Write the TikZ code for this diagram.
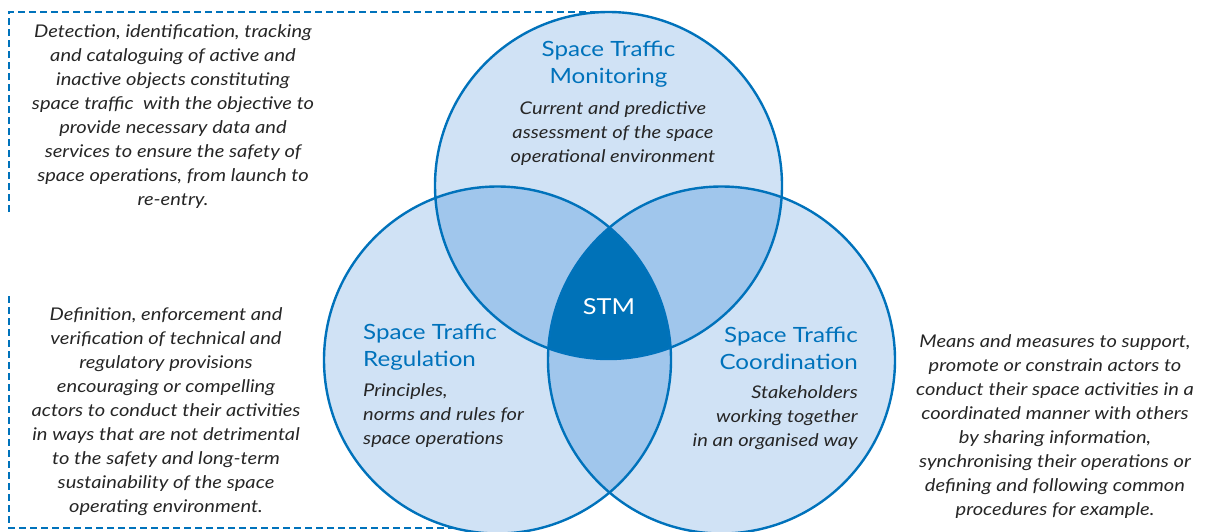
\documentclass[tikz,border=0pt]{standalone}
\usepackage{fontspec}
\setmainfont{Lato}[FakeStretch=1.15]
\definecolor{stmblue}{RGB}{0,114,187}
\definecolor{lightfill}{RGB}{208,226,245}
\definecolor{midfill}{RGB}{160,198,236}
\definecolor{darkfill}{RGB}{0,114,184}
\definecolor{txtgrey}{RGB}{38,38,38}
\tikzset{
  desc/.style={text=txtgrey, font=\fontsize{17.5}{24}\selectfont\itshape, align=center, inner sep=0pt},
  ttl/.style={text=stmblue, font=\fontsize{21}{27}\selectfont, inner sep=0pt},
  circ/.style={draw=stmblue, line width=2.4pt},
  dashline/.style={draw=stmblue, line width=1.6pt, dash pattern=on 7pt off 4pt}
}
\begin{document}
\begin{tikzpicture}[x=1pt,y=-1pt]
\useasboundingbox (0,0) rectangle (1213,531);
% dashed frames
\draw[dashline] (9,212) -- (9,12) -- (608,12);
\draw[dashline] (9,296) -- (9,528) -- (497,528);
% circle centres
\coordinate (cm) at (608.5,185.5);
\coordinate (cr) at (497.5,360);
\coordinate (cc) at (721.5,360);
\def\R{173.5}
% fills
\fill[lightfill] (cm) circle (\R);
\fill[lightfill] (cr) circle (\R);
\fill[lightfill] (cc) circle (\R);
\begin{scope}
  \clip (cm) circle (\R);
  \fill[midfill] (cr) circle (\R);
  \fill[midfill] (cc) circle (\R);
\end{scope}
\begin{scope}
  \clip (cr) circle (\R);
  \fill[midfill] (cc) circle (\R);
\end{scope}
\begin{scope}
  \clip (cm) circle (\R);
  \clip (cr) circle (\R);
  \fill[darkfill] (cc) circle (\R);
\end{scope}
% outlines
\draw[circ] (cm) circle (\R);
\draw[circ] (cr) circle (\R);
\draw[circ] (cc) circle (\R);
% texts
\node[desc] (tl) at (173,117) {Detection, identification, tracking\\and cataloguing of active and\\inactive objects constituting\\space traffic\ \ with the objective to\\provide necessary data and\\services to ensure the safety of\\space operations, from launch to\\re-entry.};
\node[desc] (bl) at (166,411.5) {Definition, enforcement and\\verification of technical and\\regulatory provisions\\encouraging or compelling\\actors to conduct their activities\\in ways that are not detrimental\\to the safety and long-term\\sustainability of the space\\operating environment.};
\node[desc] (rt) at (1055,427) {Means and measures to support,\\promote or constrain actors to\\conduct their space activities in a\\coordinated manner with others\\by sharing information,\\synchronising their operations or\\defining and following common\\procedures for example.};
\node[ttl, align=center] (mt) at (608.5,64.5) {Space Traffic\\Monitoring};
\node[desc] (ms) at (613,133.5) {Current and predictive\\assessment of the space\\operational environment};
\node[ttl, align=left, anchor=west] (rgt) at (363,347.5) {Space Traffic\\Regulation};
\node[desc, align=left, anchor=west] (rgs) at (363,416) {Principles,\\norms and rules for\\space operations};
\node[ttl, align=right, anchor=east] (ct) at (858,348.5) {Space Traffic\\Coordination};
\node[desc, align=right, anchor=east] (cs) at (858,418) {Stakeholders\\working together\\in an organised way};
\node[text=white, font=\fontsize{22}{26}\selectfont, inner sep=0pt] (stm) at (609,307) {STM};
\end{tikzpicture}
\end{document}
